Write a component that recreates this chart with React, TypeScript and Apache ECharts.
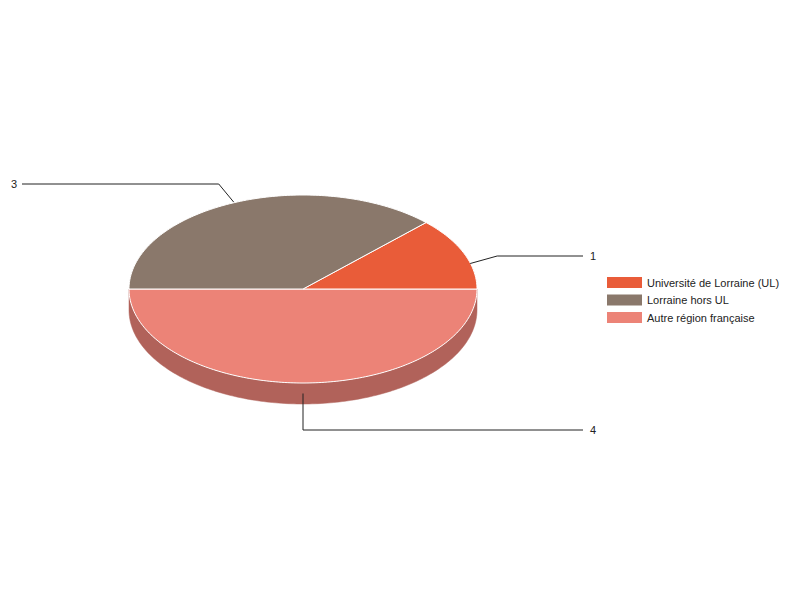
import React, { useEffect, useRef } from 'react';
import * as echarts from 'echarts';

const categories = ['Université de Lorraine (UL)', 'Lorraine hors UL', 'Autre région française'];
const values = [1, 3, 4];
const colors = ['#e95c39', '#8a786b', '#ec8377'];
const sideColors = ['#a3412a', '#615449', '#b1625a'];

const FONT = '"Liberation Sans", Arial, sans-serif';
const CX = 303;
const CY = 289;
const RX = 174;
const RY = 94;
const DEPTH = 21;
// label rows and elbows of the leader lines
const LABEL_Y = [256, 184, 430];
const ELBOW_DX = [27, -15, 0];
const LABEL_RIGHT_X = 583;
const LABEL_LEFT_X = 22;

const total = values.reduce((a, b) => a + b, 0);
const startAngles = values.map((_, i) => (values.slice(0, i).reduce((a, b) => a + b, 0) / total) * 360);

function pt(deg: number, dy = 0, scale = 1): number[] {
  const r = (deg * Math.PI) / 180;
  return [CX + RX * scale * Math.cos(r), CY - RY * Math.sin(r) + dy];
}

function arc(a0: number, a1: number, dy = 0): number[][] {
  const pts: number[][] = [];
  const n = Math.max(2, Math.ceil(a1 - a0));
  for (let k = 0; k <= n; k++) pts.push(pt(a0 + ((a1 - a0) * k) / n, dy));
  return pts;
}

function makeRender(i: number) {
  return (params: any, api: any) => {
    const v = api.value(0);
    const a0 = startAngles[i];
    const a1 = a0 + (v / total) * 360;
    const children: any[] = [];

    const s0 = Math.max(a0, 180);
    const s1 = Math.min(a1, 360);
    if (s1 > s0) {
      const top = arc(s0, s1);
      const bottom = arc(s0, s1, DEPTH).reverse();
      children.push({
        type: 'polygon',
        z2: 1,
        shape: { points: top.concat(bottom) },
        style: { fill: sideColors[i], stroke: sideColors[i], lineWidth: 0.5 },
      });
    }

    children.push({
      type: 'polygon',
      z2: 2,
      shape: { points: [[CX, CY], ...arc(a0, a1)] },
      style: { fill: colors[i], stroke: '#ffffff', lineWidth: 1 },
    });

    const mid = (a0 + a1) / 2;
    const sin = Math.sin((mid * Math.PI) / 180);
    const cos = Math.cos((mid * Math.PI) / 180);
    const anchor = pt(mid, sin < 0.5 ? DEPTH / 2 : 0, 1.04);
    const right = cos > -0.01;
    const ly = LABEL_Y[i];
    const elbow = [anchor[0] + ELBOW_DX[i], ly];
    const end = [right ? LABEL_RIGHT_X : LABEL_LEFT_X, ly];
    children.push({
      type: 'polyline',
      z2: 3,
      shape: { points: [anchor, elbow, end] },
      style: { stroke: '#222222', lineWidth: 1, fill: null },
    });
    children.push({
      type: 'text',
      z2: 3,
      x: right ? end[0] + 7 : end[0] - 5,
      y: ly,
      style: {
        text: String(v),
        fill: '#222222',
        font: `11px ${FONT}`,
        align: right ? 'left' : 'right',
        verticalAlign: 'middle',
      },
    });

    return { type: 'group', children };
  };
}

export default function App() {
  const ref = useRef<HTMLDivElement>(null);

  useEffect(() => {
    if (!ref.current) return;
    const chart = echarts.init(ref.current, null, { renderer: 'svg' });

    chart.setOption({
      animation: false,
      backgroundColor: '#ffffff',
      legend: {
        orient: 'vertical',
        left: 607,
        top: 277,
        padding: 0,
        icon: 'rect',
        itemWidth: 35,
        itemHeight: 11,
        itemGap: 6.5,
        selectedMode: false,
        textStyle: { fontSize: 11, color: '#222222', fontFamily: FONT },
        data: categories,
      },
      series: categories.map((name, i) => ({
        type: 'custom',
        name,
        coordinateSystem: 'none',
        z: i === 2 ? 1 : 2,
        itemStyle: { color: colors[i] },
        data: [[values[i]]],
        renderItem: makeRender(i),
      })),
    });

    return () => chart.dispose();
  }, []);

  return (
    <div
      ref={ref}
      style={{ position: 'absolute', left: 0, top: 0, width: '800px', height: '600px' }}
    />
  );
}
